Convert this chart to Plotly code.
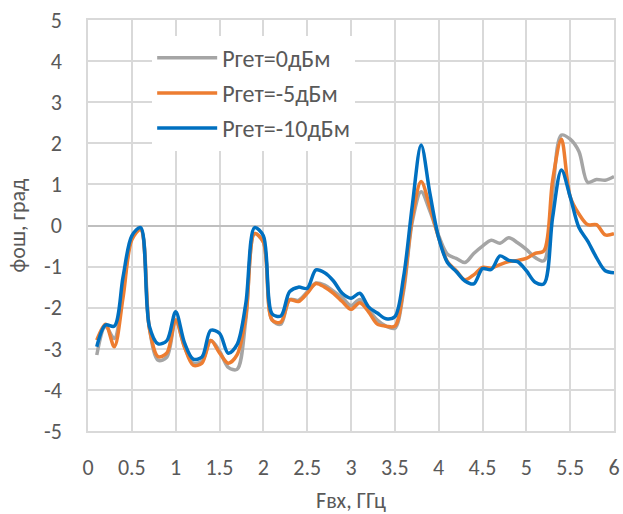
import plotly.graph_objects as go

freq = [round(0.1 * i, 1) for i in range(1, 61)]

p0 = [-3.15, -2.45, -2.75, -1.6, -0.3, -0.08, -2.5, -3.28, -3.2, -2.3,
      -2.95, -3.35, -3.3, -2.8, -3.05, -3.45, -3.5, -2.3, -0.2, -0.4,
      -2.3, -2.4, -1.8, -1.82, -1.62, -1.4, -1.45, -1.6, -1.75, -1.95,
      -1.8, -2.05, -2.3, -2.45, -2.5, -1.6, 0.1, 0.82, 0.35, -0.25,
      -0.7, -0.8, -0.9, -0.68, -0.5, -0.36, -0.43, -0.3, -0.42, -0.58,
      -0.78, -0.86, 0.8, 2.2, 2.1, 1.8, 1.05, 1.12, 1.1, 1.19]

p5 = [-2.79, -2.4, -2.95, -1.75, -0.35, -0.1, -2.5, -3.19, -3.1, -2.3,
      -2.95, -3.4, -3.35, -2.8, -3.1, -3.35, -3.15, -2.2, -0.2, -0.4,
      -2.3, -2.35, -1.81, -1.85, -1.65, -1.41, -1.5, -1.65, -1.85, -2.04,
      -1.88, -2.1, -2.4, -2.45, -2.45, -1.5, 0.2, 1.07, 0.45, -0.3,
      -0.88, -1.1, -1.32, -1.2, -1.02, -1.04, -0.95, -0.88, -0.85, -0.8,
      -0.68, -0.62, 1.1, 2.1, 0.7, 0.28, 0.02, 0.02, -0.23, -0.2]

p10 = [-2.95, -2.42, -2.45, -1.25, -0.25, -0.05, -2.45, -2.88, -2.8, -2.1,
       -2.85, -3.25, -3.2, -2.55, -2.62, -3.11, -2.9, -1.9, -0.05, -0.25,
       -2.15, -2.2, -1.61, -1.5, -1.53, -1.08, -1.15, -1.35, -1.65, -1.77,
       -1.65, -1.98, -2.13, -2.27, -2.22, -1.25, 0.5, 1.96, 0.78, -0.3,
       -0.9, -1.12, -1.35, -1.42, -1.05, -1.07, -0.74, -0.85, -0.88, -1.1,
       -1.38, -1.42, 0.2, 1.35, 0.7, -0.05, -0.38, -0.78, -1.1, -1.15]

series_names = ["Pгет=0дБм", "Pгет=-5дБм", "Pгет=-10дБм"]
series_colors = ["#a5a5a5", "#ed7d31", "#0070c0"]

y_ticks = [-5, -4, -3, -2, -1, 0, 1, 2, 3, 4, 5]
y_tick_text = ["-5", "-4", "-3", "-2", "-1", "0", "1", "2", "3", "4", "5"]
x_ticks = [0, 0.5, 1, 1.5, 2, 2.5, 3, 3.5, 4, 4.5, 5, 5.5, 6]
x_tick_text = ["0", "0.5", "1", "1.5", "2", "2.5", "3", "3.5", "4", "4.5", "5", "5.5", "6"]

FONT = "Carlito, Lato, sans-serif"
TXT = "#595959"
GRID = "#d9d9d9"
FS = 22

fig = go.Figure()
for i, (name, ys, col) in enumerate(zip(series_names, [p0, p5, p10], series_colors)):
    fig.add_trace(go.Scatter(x=freq, y=ys, name=name, mode="lines", legendgroup=f"g{i}",
                             line=dict(color=col, width=3.5, shape="spline", smoothing=0.9)))

fig.update_layout(
    width=623, height=514,
    margin=dict(l=88, r=9, t=20, b=83, autoexpand=False),
    paper_bgcolor="white", plot_bgcolor="white",
    font=dict(family=FONT, size=FS, color=TXT),
    showlegend=True,
    legend=dict(x=0.122, y=0.962, xanchor="left", yanchor="top",
                bgcolor="white", font=dict(family=FONT, size=24, color=TXT),
                itemwidth=60, tracegroupgap=1),
)
fig.update_xaxes(range=[0, 6], tickvals=x_ticks, ticktext=x_tick_text, automargin=False,
                 showgrid=True, gridcolor=GRID, gridwidth=1.5,
                 showline=True, linecolor=GRID, linewidth=1.5, mirror=True,
                 zeroline=False, ticks="", ticklabelstandoff=16,
                 tickfont=dict(family=FONT, size=FS, color=TXT),
                 title=dict(text="Fвх, ГГц", standoff=14,
                            font=dict(family=FONT, size=FS, color=TXT)))
fig.update_yaxes(range=[-5, 5], tickvals=y_ticks, ticktext=y_tick_text, automargin=False,
                 showgrid=True, gridcolor=GRID, gridwidth=1.5,
                 showline=True, linecolor=GRID, linewidth=1.5, mirror=True,
                 zeroline=True, zerolinecolor="#bfbfbf", zerolinewidth=1.5,
                 ticks="", ticklabelstandoff=20,
                 tickfont=dict(family=FONT, size=FS, color=TXT),
                 title=dict(text="фош, град", standoff=12,
                            font=dict(family=FONT, size=FS, color=TXT)))

fig.write_html("out.html")
